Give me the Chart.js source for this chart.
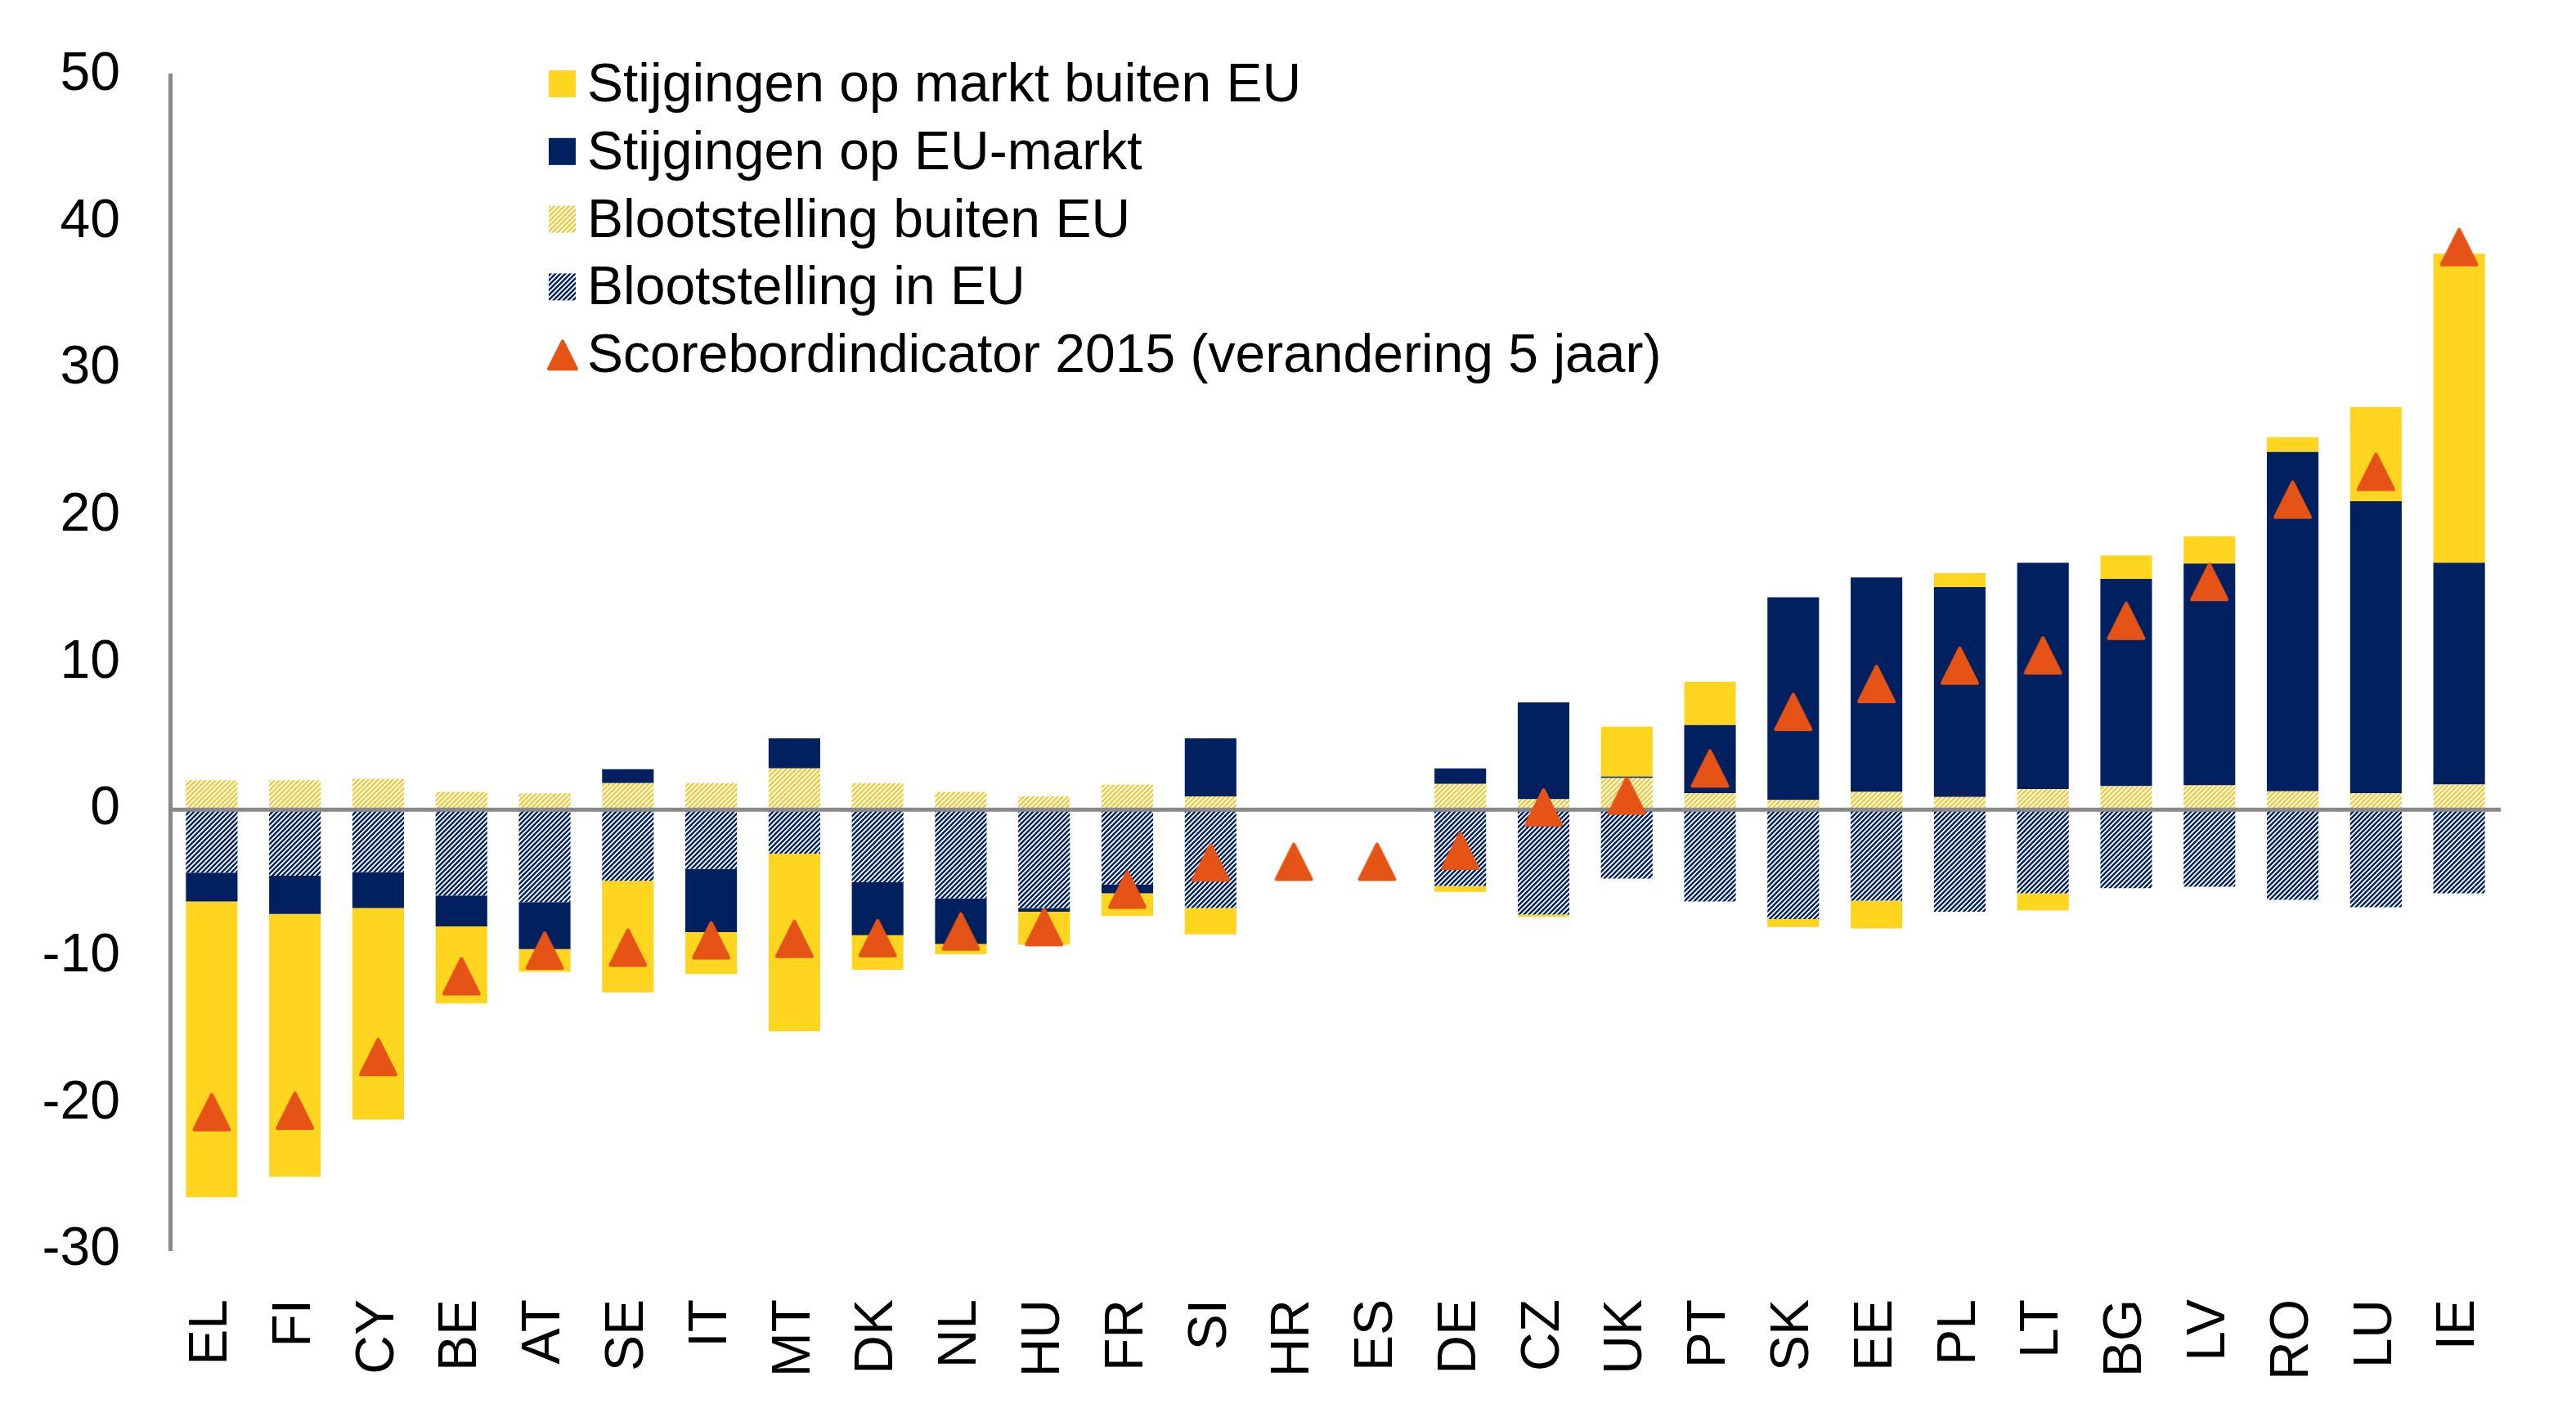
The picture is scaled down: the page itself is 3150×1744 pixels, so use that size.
<!DOCTYPE html>
<html>
<head>
<meta charset="utf-8">
<script src="https://cdn.jsdelivr.net/npm/chart.js@4.4.1/dist/chart.umd.min.js"></script>
<style>
  html, body { margin: 0; padding: 0; background: #fff; }
  canvas { display: block; }
</style>
</head>
<body>
<canvas id="chart" width="3150" height="1744"></canvas>
<script>
const countries = ['EL','FI','CY','BE','AT','SE','IT','MT','DK','NL','HU','FR','SI','HR','ES','DE','CZ','UK','PT','SK','EE','PL','LT','BG','LV','RO','LU','IE']

// Blootstelling buiten EU (hatched yellow)
const exposureNonEU = [2.0, 2.0, 2.1, 1.2, 1.1, 1.8, 1.8, 2.8, 1.8, 1.2, 0.9, 1.7, 0.9, null, null, 1.75, 0.7, 2.15, 1.1, 0.65, 1.2, 0.85, 1.4, 1.6, 1.65, 1.25, 1.1, 1.7]
// Blootstelling in EU (hatched navy)
const exposureEU = [-4.3, -4.5, -4.25, -5.85, -6.3, -4.85, -4.05, -3.0, -4.95, -6.05, -6.7, -5.1, -6.7, null, null, -5.2, -7.15, -4.7, -6.25, -7.45, -6.2, -6.95, -5.7, -5.35, -5.25, -6.15, -6.65, -5.7]
// Stijgingen op EU-markt (navy)
const gainsEU = [-1.95, -2.6, -2.45, -2.1, -3.2, 0.95, -4.3, 2.05, -3.6, -3.1, -0.25, -0.6, 3.95, null, null, 1.05, 6.6, 0.1, 4.65, 13.8, 14.6, 14.3, 15.4, 14.1, 15.1, 23.1, 19.9, 15.1]
// Stijgingen op markt buiten EU (yellow)
const gainsNonEU = [-20.15, -17.9, -14.4, -5.25, -1.55, -7.6, -2.85, -12.1, -2.35, -0.7, -2.25, -1.55, -1.8, null, null, -0.4, -0.15, 3.4, 2.95, -0.55, -1.9, 0.95, -1.15, 1.6, 1.85, 1.0, 6.4, 21.05]
// Scorebordindicator 2015 (verandering 5 jaar)
const scoreboard = [-20.6, -20.5, -16.85, -11.35, -9.6, -9.4, -8.9, -8.8, -8.75, -8.3, -8.0, -5.45, -3.6, -3.55, -3.55, -2.8, 0.15, 0.95, 2.8, 6.65, 8.55, 9.8, 10.5, 12.85, 15.5, 21.1, 23.0, 38.3]

const yTicks = [-30, -20, -10, 0, 10, 20, 30, 40, 50]

const YELLOW = '#FFD520'
const NAVY = '#002060'
const ORANGE = '#E55316'
const GREY = '#898989'
const FONT = '"Liberation Sans", Arial, sans-serif'

function hatch(color){
  const c = document.createElement('canvas')
  c.width = 6; c.height = 6
  const g = c.getContext('2d')
  g.fillStyle = '#fff'
  g.fillRect(0, 0, 6, 6)
  g.strokeStyle = color
  g.lineWidth = 2.4
  g.beginPath()
  g.moveTo(-1, 7); g.lineTo(7, -1)
  g.moveTo(-1, 1); g.lineTo(1, -1)
  g.moveTo(5, 7); g.lineTo(7, 5)
  g.stroke()
  return g.createPattern(c, 'repeat')
}

function triangle(w, h){
  const c = document.createElement('canvas')
  c.width = w + 6; c.height = h + 6
  const g = c.getContext('2d')
  const cx = c.width / 2
  g.fillStyle = ORANGE
  g.strokeStyle = ORANGE
  g.lineWidth = 4
  g.lineJoin = 'round'
  g.beginPath()
  g.moveTo(cx, 5)
  g.lineTo(cx + w / 2 - 2, h + 1)
  g.lineTo(cx - w / 2 + 2, h + 1)
  g.closePath()
  g.fill()
  g.stroke()
  return c
}

const hatchYellow = hatch('#F1CB3E')
const hatchNavy = hatch(NAVY)
const triMarker = triangle(47, 47)
const triLegend = triangle(38, 38)

const legendItems = [
  {label: 'Stijgingen op markt buiten EU', fill: YELLOW},
  {label: 'Stijgingen op EU-markt', fill: NAVY},
  {label: 'Blootstelling buiten EU', fill: hatchYellow},
  {label: 'Blootstelling in EU', fill: hatchNavy},
  {label: 'Scorebordindicator 2015 (verandering 5 jaar)', tri: true}
]

// zero line goes over the bars but under the triangles
const zeroLine = {
  id: 'zeroLine',
  beforeDatasetDraw(chart, args){
    if (args.index !== 4) return
    const {ctx, chartArea} = chart
    const y = chart.scales.y.getPixelForValue(0)
    ctx.save()
    ctx.strokeStyle = GREY
    ctx.lineWidth = 5
    ctx.beginPath()
    ctx.moveTo(chartArea.left, y)
    ctx.lineTo(chartArea.right, y)
    ctx.stroke()
    ctx.restore()
  }
}

const boxLegend = {
  id: 'boxLegend',
  afterDraw(chart){
    const {ctx} = chart
    const x = 671
    ctx.save()
    ctx.font = '66px ' + FONT
    ctx.textBaseline = 'alphabetic'
    legendItems.forEach((item, i) => {
      const base = 124 + i * 82.8
      if (item.tri){
        ctx.drawImage(triLegend, x + 17 - triLegend.width / 2, base - 21 - triLegend.height / 2)
      } else {
        ctx.fillStyle = item.fill
        ctx.fillRect(x, base - 38, 33, 33)
      }
      ctx.fillStyle = '#000'
      ctx.fillText(item.label, x + 47, base)
    })
    ctx.restore()
  }
}

const barBase = {type: 'bar', borderWidth: 0, barPercentage: 0.62, categoryPercentage: 1.0, order: 1}

new Chart(document.getElementById('chart'), {
  data: {
    labels: countries,
    datasets: [
      {...barBase, label: 'Blootstelling buiten EU', data: exposureNonEU, backgroundColor: hatchYellow},
      {...barBase, label: 'Blootstelling in EU', data: exposureEU, backgroundColor: hatchNavy},
      {...barBase, label: 'Stijgingen op EU-markt', data: gainsEU, backgroundColor: NAVY},
      {...barBase, label: 'Stijgingen op markt buiten EU', data: gainsNonEU, backgroundColor: YELLOW},
      {
        type: 'line', label: 'Scorebordindicator 2015 (verandering 5 jaar)', data: scoreboard,
        showLine: false, pointStyle: triMarker, pointRadius: 24, pointHoverRadius: 24,
        backgroundColor: ORANGE, borderColor: ORANGE, stack: 'score', order: 0
      }
    ]
  },
  options: {
    responsive: false,
    devicePixelRatio: 1,
    animation: false,
    layout: {autoPadding: false, padding: {left: 0, right: 92, top: 92, bottom: 0}},
    plugins: {legend: {display: false}, tooltip: {enabled: false}},
    scales: {
      x: {
        stacked: true,
        grid: {display: false, drawTicks: false},
        border: {display: false},
        ticks: {
          autoSkip: false, maxRotation: 90, minRotation: 90, padding: 60,
          color: '#000', font: {family: FONT, size: 66, lineHeight: 1.1}
        },
        afterFit(scale){ scale.height = 215 }
      },
      y: {
        stacked: true,
        min: -30, max: 50,
        afterBuildTicks(scale){ scale.ticks = yTicks.map(v => ({value: v})) },
        // tick marks are hidden with the grid; their length only pushes the labels out
        grid: {display: false, drawTicks: true, tickLength: 61},
        border: {display: true, color: GREY, width: 5},
        ticks: {padding: 0, color: '#000', font: {family: FONT, size: 66}},
        afterFit(scale){ scale.width = 208 }
      }
    }
  },
  plugins: [zeroLine, boxLegend]
})
</script>
</body>
</html>
